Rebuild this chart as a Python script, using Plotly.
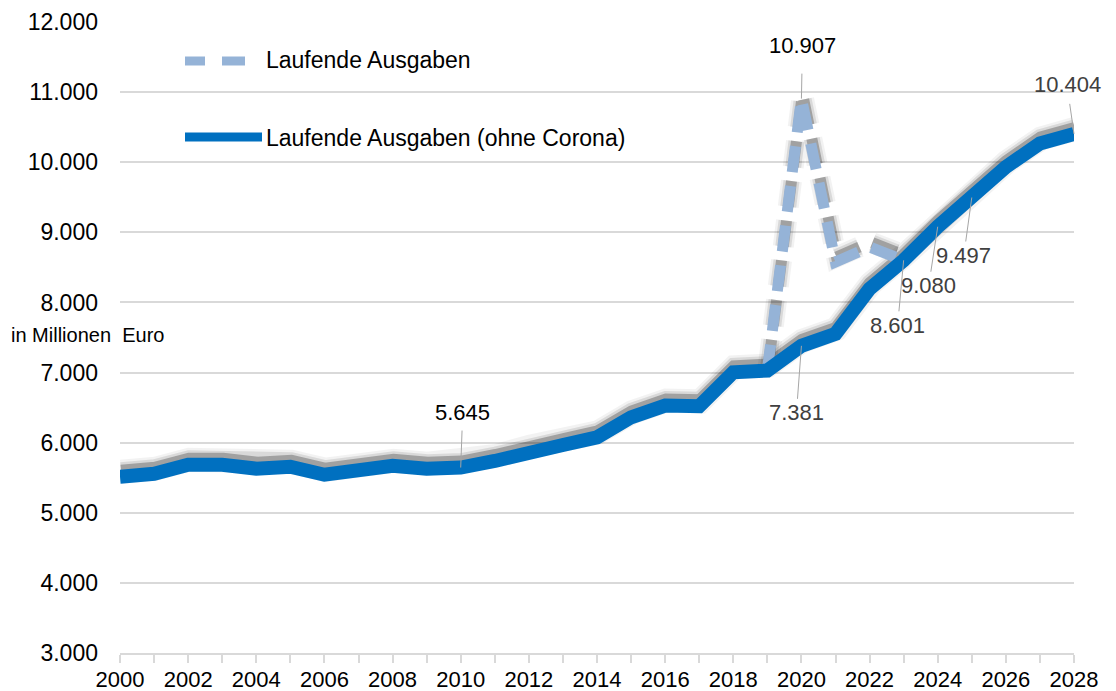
import plotly.graph_objects as go

# Daten
years = list(range(2000, 2029))
ohne_corona = [5514, 5557, 5686, 5686, 5629, 5657, 5543, 5600, 5671, 5629,
               5645, 5739, 5871, 5967, 6076, 6362, 6529, 6519, 7004, 7029,
               7381, 7553, 8195, 8601, 9080, 9497, 9933, 10267, 10404]
corona_years = [2019, 2020, 2021, 2022, 2023]
laufende = [7029, 10907, 8576, 8790, 8601]
label_years = years[::2]
tick_labels = [str(y) for y in label_years]

FONT = "Liberation Sans, Arial, sans-serif"
DARK = "#0070C0"
LIGHT = "#95B3D7"

# la page a une marge de 8px : la figure démarre à (8, 8)
W, H = 1108, 683
L, R, T, B = 112, 42, 14, 38
plot_w, plot_h = W - L - R, H - T - B
x_range = [2000, 2028]
y_range = [3000, 12000]

# Schatten: nach oben versetzt
dx_px, dy_px = 1, 5
dx = dx_px * (x_range[1] - x_range[0]) / plot_w
dy = dy_px * (y_range[1] - y_range[0]) / plot_h

fig = go.Figure()

for width, alpha in [(24, 0.05), (19, 0.10), (14, 0.26)]:
    fig.add_trace(go.Scatter(
        x=corona_years, y=laufende, mode='lines', xaxis='x2', yaxis='y2',
        line=dict(color=f'rgba(0,0,0,{alpha})', width=width - 3, dash='26px,14px'),
        hoverinfo='skip', showlegend=False
    ))
    fig.add_trace(go.Scatter(
        x=years, y=ohne_corona, mode='lines', xaxis='x2', yaxis='y2',
        line=dict(color=f'rgba(0,0,0,{alpha})', width=width),
        hoverinfo='skip', showlegend=False
    ))

fig.add_trace(go.Scatter(
    name="Laufende Ausgaben",
    x=corona_years, y=laufende, mode='lines', xaxis='x3', yaxis='y3',
    line=dict(color=LIGHT, width=11, dash='26px,14px'),
    showlegend=False
))
fig.add_trace(go.Scatter(
    name="Laufende Ausgaben (ohne Corona)",
    x=years, y=ohne_corona, mode='lines', xaxis='x3', yaxis='y3',
    line=dict(color=DARK, width=14),
    showlegend=False
))


def value_of(year, series_years, series):
    return series[series_years.index(year)]


# Datenbeschriftungen (Jahr, Wert, Versatz, Farbe)
labels = [
    (2020, value_of(2020, corona_years, laufende), 1, -53, "#000000", 14),
    (2028, value_of(2028, years, ohne_corona), -7, -49, "#404040", 5),
    (2025, value_of(2025, years, ohne_corona), -8, 58, "#404040", 0),
    (2024, value_of(2024, years, ohne_corona), -9, 59, "#404040", 0),
    (2023, value_of(2023, years, ohne_corona), -6, 65, "#404040", 0),
    (2020, value_of(2020, years, ohne_corona), -5, 67, "#404040", 0),
    (2010, value_of(2010, years, ohne_corona), 2, -55, "#000000", 4),
]
for yr, val, ax, ay, col, sso in labels:
    fig.add_annotation(
        x=yr, y=val, xref='x', yref='y',
        text=f"{val:,}".replace(",", "."),
        showarrow=True, arrowhead=0, arrowwidth=1, arrowcolor="#a6a6a6",
        ax=ax, ay=ay, startstandoff=sso,
        font=dict(family=FONT, size=22, color=col)
    )


# Legende (manuell), coordonnées écran -> paper
def px_x(p):
    return (p - 8 - L) / plot_w


def px_y(p):
    return (8 + H - B - p) / plot_h


for x0, x1 in [(185, 205), (222, 245)]:
    fig.add_shape(type='line', xref='paper', yref='paper',
                  x0=px_x(x0), x1=px_x(x1), y0=px_y(61), y1=px_y(61),
                  line=dict(color=LIGHT, width=9))
fig.add_shape(type='line', xref='paper', yref='paper',
              x0=px_x(185), x1=px_x(262), y0=px_y(137), y1=px_y(137),
              line=dict(color=DARK, width=9))
fig.add_annotation(x=px_x(264), y=px_y(60), xref='paper', yref='paper',
                   text="Laufende Ausgaben", showarrow=False,
                   xanchor='left', yanchor='middle',
                   font=dict(family=FONT, size=23, color="#000000"))
fig.add_annotation(x=px_x(264), y=px_y(138), xref='paper', yref='paper',
                   text="Laufende Ausgaben (ohne Corona)", showarrow=False,
                   xanchor='left', yanchor='middle',
                   font=dict(family=FONT, size=23, color="#000000"))

fig.add_annotation(x=px_x(9), y=px_y(335), xref='paper', yref='paper',
                   text="in Millionen  Euro", showarrow=False,
                   xanchor='left', yanchor='middle',
                   font=dict(family=FONT, size=20, color="#000000"))

# Habillage
fig.update_layout(
    width=W, height=H,
    margin=dict(l=L, r=R, t=T, b=B),
    plot_bgcolor='white', paper_bgcolor='white',
    separators=",.",
    showlegend=False,
    font=dict(family=FONT, color="#000000"),
    xaxis=dict(
        range=x_range, tickvals=label_years, ticktext=tick_labels, ticks='',
        minor=dict(tickvals=years, ticks='outside', ticklen=8,
                   tickcolor='#d9d9d9', tickwidth=1.5, showgrid=False),
        showgrid=False, zeroline=False, automargin=False,
        showline=True, linecolor='#d9d9d9', linewidth=1.5,
        tickfont=dict(size=22, color="#000000"), ticklabelstandoff=6
    ),
    yaxis=dict(
        range=y_range, dtick=1000, tickformat=",.0f",
        showgrid=True, gridcolor='#d9d9d9', gridwidth=1.5,
        zeroline=False, showline=False, automargin=False,
        tickfont=dict(size=23, color="#000000"), ticklabelstandoff=21
    ),
    xaxis2=dict(range=[x_range[0] - dx, x_range[1] - dx], overlaying='x', visible=False),
    yaxis2=dict(range=[y_range[0] - dy, y_range[1] - dy], overlaying='y', visible=False),
    xaxis3=dict(range=x_range, overlaying='x', visible=False),
    yaxis3=dict(range=y_range, overlaying='y', visible=False),
)

fig.write_html("out.html")
